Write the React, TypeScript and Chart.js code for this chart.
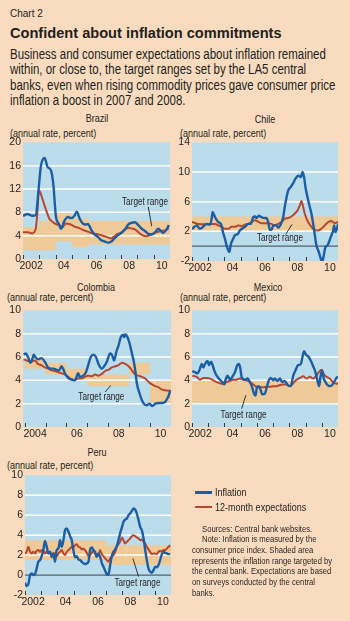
import React, { useEffect, useRef } from "react";
import { Chart, registerables } from "chart.js";

Chart.register(...registerables);

// ---------- colours & fonts ----------
const PEACH = "#F9DCBF";
const PLOT_BG = "#BBDCEB";
const BAND = "#EDCA98";
const BLUE = "#1A5EA6";
const RED = "#B8472E";
const TEXT = "#231F20";
const GRID = "#FFFFFF";
const ZERO = "#56626C";
const TICK = "#3A3A3A";
const SANS = '"Liberation Sans", Arial, sans-serif';
const NARROW_SCALE = 0.82;

// ---------- tick labels ----------
const xLabelYears = [2002, 2004, 2006, 2008, 2010];
const xLabelTexts = ["2002", "04", "06", "08", "10"];
const colXLabelYears = [2004, 2006, 2008, 2010];
const colXLabelTexts = ["2004", "06", "08", "10"];

// ---------- Brazil ----------
const brazilInflYears = [2002.0, 2002.27, 2002.58, 2002.78, 2002.95, 2003.09, 2003.32, 2003.5, 2003.71, 2003.85, 2004.02, 2004.18, 2004.33, 2004.53, 2004.74, 2004.94, 2005.15, 2005.29, 2005.46, 2005.62, 2005.79, 2005.97, 2006.18, 2006.38, 2006.59, 2006.79, 2007.0, 2007.21, 2007.41, 2007.62, 2007.82, 2008.03, 2008.23, 2008.44, 2008.65, 2008.85, 2009.06, 2009.26, 2009.47, 2009.67, 2009.88, 2010.09, 2010.29, 2010.44, 2010.6, 2010.77, 2010.93];
const brazilInflation = [7.4, 7.7, 7.4, 7.5, 11.8, 15.8, 17.3, 15.8, 15.2, 13.0, 7.2, 6.1, 5.2, 6.5, 7.2, 7.0, 7.4, 8.1, 7.0, 6.2, 5.9, 6.0, 5.0, 4.2, 3.8, 3.2, 3.0, 2.8, 3.0, 3.6, 4.1, 4.5, 5.0, 5.9, 6.2, 6.3, 5.8, 5.2, 4.8, 4.3, 4.2, 4.6, 5.2, 4.8, 4.5, 5.0, 5.8];
const brazilExpYears = [2002.0, 2002.3, 2002.55, 2002.78, 2002.88, 2002.98, 2003.2, 2003.4, 2003.6, 2003.8, 2004.0, 2004.2, 2004.45, 2004.6, 2004.85, 2005.0, 2005.2, 2005.45, 2005.65, 2005.85, 2006.05, 2006.25, 2006.5, 2006.75, 2007.0, 2007.2, 2007.35, 2007.6, 2007.8, 2008.0, 2008.25, 2008.5, 2008.7, 2008.9, 2009.1, 2009.3, 2009.55, 2009.75, 2010.0, 2010.2, 2010.45, 2010.7, 2010.93];
const brazilExpectations = [4.6, 4.6, 4.4, 5.2, 8.0, 11.8, 10.2, 8.5, 7.0, 6.4, 6.0, 5.8, 5.5, 6.1, 6.0, 5.8, 5.5, 5.3, 5.0, 4.8, 4.6, 4.4, 4.3, 4.1, 3.9, 3.7, 3.5, 3.9, 4.3, 4.5, 5.1, 5.3, 5.2, 5.0, 4.5, 4.1, 3.9, 4.1, 4.4, 4.6, 4.8, 4.9, 5.3];
const brazilBandYears = [2002, 2003, 2004, 2005, 2006, 2011];
const brazilBandLow = [1.5, 1.5, 3, 2, 2.5, 2.5];
const brazilBandHigh = [5.5, 6.5, 8, 7, 6.5, 6.5];

// ---------- Chile ----------
const chileInflYears = [2002.0, 2002.29, 2002.49, 2002.7, 2002.9, 2003.11, 2003.21, 2003.27, 2003.42, 2003.62, 2003.78, 2003.93, 2004.03, 2004.13, 2004.24, 2004.3, 2004.4, 2004.54, 2004.65, 2004.81, 2004.95, 2005.26, 2005.47, 2005.63, 2005.77, 2005.88, 2005.98, 2006.12, 2006.29, 2006.45, 2006.59, 2006.7, 2006.8, 2006.9, 2007.01, 2007.21, 2007.31, 2007.48, 2007.62, 2007.72, 2007.83, 2007.93, 2008.09, 2008.24, 2008.38, 2008.54, 2008.71, 2008.81, 2008.91, 2008.99, 2009.12, 2009.26, 2009.36, 2009.47, 2009.57, 2009.67, 2009.82, 2009.94, 2010.02, 2010.1, 2010.23, 2010.35, 2010.45, 2010.55, 2010.7, 2010.76, 2010.84, 2010.93, 2011.0];
const chileInflation = [2.3, 2.8, 2.35, 2.65, 3.0, 2.9, 3.7, 4.6, 3.9, 3.25, 3.0, 1.7, 1.0, 0.1, -0.6, -0.8, 0.3, 1.0, 1.5, 1.6, 2.1, 2.6, 3.0, 3.0, 3.9, 4.0, 3.8, 4.1, 3.9, 3.8, 3.8, 3.2, 2.2, 2.2, 2.8, 2.8, 2.5, 3.0, 3.9, 5.3, 6.6, 7.5, 8.0, 8.5, 9.1, 9.5, 9.3, 10.0, 9.3, 8.0, 6.6, 5.3, 4.4, 3.0, 1.5, 0.1, -0.8, -1.7, -2.1, -1.5, -0.1, 0.1, 0.6, 1.2, 2.1, 2.8, 1.9, 2.3, 3.0];
const chileExpYears = [2002.0, 2002.39, 2002.8, 2003.21, 2003.42, 2003.62, 2003.83, 2004.03, 2004.24, 2004.44, 2004.65, 2004.85, 2005.06, 2005.26, 2005.47, 2005.67, 2005.88, 2006.08, 2006.29, 2006.49, 2006.7, 2006.9, 2007.11, 2007.31, 2007.52, 2007.72, 2007.93, 2008.13, 2008.34, 2008.5, 2008.65, 2008.75, 2008.85, 2008.95, 2009.06, 2009.16, 2009.36, 2009.57, 2009.77, 2009.98, 2010.18, 2010.39, 2010.59, 2010.8, 2011.0];
const chileExpectations = [3.25, 3.0, 2.95, 3.0, 3.0, 2.8, 2.6, 2.35, 2.35, 2.6, 2.6, 2.8, 2.7, 2.9, 3.0, 3.25, 3.5, 3.3, 3.1, 3.1, 3.1, 3.0, 2.8, 3.0, 3.25, 3.7, 3.8, 4.0, 4.4, 4.8, 5.5, 6.1, 5.3, 4.4, 3.7, 3.25, 2.6, 2.2, 2.1, 2.35, 2.8, 3.25, 3.4, 3.1, 3.25];
const chileBandYears = [2002, 2011];
const chileBandLow = [2, 2];
const chileBandHigh = [4, 4];

// ---------- Colombia ----------
const colombiaInflYears = [2003.95, 2004.05, 2004.16, 2004.27, 2004.37, 2004.43, 2004.53, 2004.64, 2004.8, 2004.96, 2005.12, 2005.28, 2005.39, 2005.52, 2005.65, 2005.76, 2005.84, 2005.92, 2006.08, 2006.24, 2006.4, 2006.56, 2006.64, 2006.8, 2006.93, 2007.04, 2007.16, 2007.29, 2007.41, 2007.53, 2007.69, 2007.8, 2007.93, 2008.09, 2008.17, 2008.28, 2008.38, 2008.49, 2008.6, 2008.7, 2008.76, 2008.82, 2008.92, 2009.02, 2009.13, 2009.21, 2009.29, 2009.37, 2009.5, 2009.61, 2009.72, 2009.85, 2009.98, 2010.09, 2010.25, 2010.41, 2010.57, 2010.73, 2010.81, 2010.89, 2010.97];
const colombiaInflation = [6.23, 6.3, 6.0, 5.5, 5.85, 6.2, 5.95, 5.8, 5.9, 5.6, 5.1, 5.0, 5.0, 4.9, 4.85, 5.2, 5.0, 4.6, 4.2, 4.05, 4.0, 4.6, 4.3, 4.4, 4.7, 5.3, 6.0, 6.2, 6.0, 5.4, 5.0, 5.2, 5.6, 6.3, 6.2, 5.7, 6.4, 7.0, 7.7, 7.9, 7.7, 7.95, 7.7, 7.15, 6.3, 5.7, 4.85, 3.7, 2.85, 2.3, 1.95, 1.86, 2.0, 1.8, 2.0, 2.06, 2.06, 2.15, 2.4, 2.7, 3.15];
const colombiaExpYears = [2003.95, 2004.16, 2004.32, 2004.48, 2004.64, 2004.8, 2004.96, 2005.12, 2005.28, 2005.44, 2005.6, 2005.76, 2005.92, 2006.08, 2006.24, 2006.4, 2006.56, 2006.72, 2006.88, 2007.04, 2007.21, 2007.37, 2007.53, 2007.69, 2007.85, 2008.01, 2008.17, 2008.33, 2008.49, 2008.65, 2008.81, 2008.97, 2009.13, 2009.29, 2009.45, 2009.61, 2009.77, 2009.93, 2010.09, 2010.25, 2010.41, 2010.57, 2010.73, 2010.97];
const colombiaExpectations = [5.8, 5.65, 5.6, 5.7, 5.4, 5.3, 5.1, 5.0, 4.85, 4.8, 4.7, 4.6, 4.5, 4.3, 4.1, 4.05, 4.15, 4.15, 4.3, 4.4, 4.35, 4.5, 4.4, 4.55, 4.8, 4.9, 5.1, 5.2, 5.3, 5.5, 5.4, 5.2, 4.85, 4.5, 4.4, 4.3, 4.15, 3.85, 3.65, 3.5, 3.4, 3.2, 3.15, 3.1];
const colombiaBandYears = [2004, 2005, 2006, 2007, 2009, 2010, 2011];
const colombiaBandLow = [5, 4.5, 4, 3.5, 4.5, 2, 2];
const colombiaBandHigh = [6, 5.5, 5, 4.5, 5.5, 4, 4];

// ---------- Mexico ----------
const mexicoInflYears = [2002.02, 2002.18, 2002.35, 2002.49, 2002.59, 2002.7, 2002.8, 2002.96, 2003.05, 2003.17, 2003.25, 2003.37, 2003.52, 2003.72, 2003.87, 2003.99, 2004.07, 2004.19, 2004.34, 2004.48, 2004.65, 2004.79, 2004.89, 2004.97, 2005.06, 2005.26, 2005.43, 2005.57, 2005.71, 2005.84, 2005.92, 2006.0, 2006.12, 2006.25, 2006.33, 2006.49, 2006.59, 2006.74, 2006.86, 2007.01, 2007.11, 2007.27, 2007.42, 2007.56, 2007.72, 2007.89, 2008.03, 2008.13, 2008.24, 2008.38, 2008.54, 2008.71, 2008.81, 2008.91, 2009.02, 2009.16, 2009.32, 2009.47, 2009.61, 2009.73, 2009.84, 2009.92, 2010.02, 2010.12, 2010.23, 2010.35, 2010.49, 2010.64, 2010.76, 2010.9, 2011.0];
const mexicoInflation = [4.8, 4.7, 4.6, 5.0, 5.4, 5.1, 5.4, 5.65, 5.3, 5.6, 5.4, 4.85, 4.4, 4.05, 3.85, 3.65, 4.05, 4.4, 4.05, 4.3, 4.7, 5.3, 5.4, 5.1, 4.3, 4.05, 4.15, 3.85, 3.4, 2.8, 2.7, 3.4, 3.5, 3.1, 2.8, 2.85, 3.3, 4.0, 4.2, 4.0, 4.15, 3.95, 4.15, 3.85, 3.95, 3.6, 3.5, 3.65, 4.4, 4.85, 5.3, 5.4, 6.0, 6.5, 6.2, 6.05, 5.7, 5.2, 4.7, 4.0, 3.5, 4.3, 4.85, 4.15, 3.85, 3.6, 3.5, 3.6, 3.85, 4.2, 4.3];
const mexicoExpYears = [2002.02, 2002.29, 2002.49, 2002.7, 2002.9, 2003.11, 2003.31, 2003.52, 2003.72, 2003.93, 2004.13, 2004.34, 2004.54, 2004.75, 2004.95, 2005.16, 2005.36, 2005.57, 2005.77, 2005.98, 2006.18, 2006.39, 2006.59, 2006.8, 2007.01, 2007.21, 2007.42, 2007.62, 2007.83, 2008.03, 2008.24, 2008.44, 2008.65, 2008.85, 2009.06, 2009.26, 2009.47, 2009.67, 2009.82, 2009.98, 2010.14, 2010.29, 2010.49, 2010.7, 2010.9, 2011.0];
const mexicoExpectations = [4.4, 4.3, 4.05, 4.2, 4.2, 4.15, 4.0, 3.85, 3.75, 3.7, 3.85, 3.95, 4.05, 4.05, 4.15, 4.05, 4.0, 3.85, 3.65, 3.45, 3.4, 3.4, 3.45, 3.45, 3.5, 3.5, 3.6, 3.65, 3.65, 3.5, 3.75, 4.05, 4.2, 4.35, 4.15, 4.3, 4.15, 4.4, 4.7, 4.9, 4.5, 4.3, 4.15, 3.85, 3.7, 3.75];
const mexicoBandYears = [2002, 2011];
const mexicoBandLow = [2, 2];
const mexicoBandHigh = [4, 4];

// ---------- Peru ----------
const peruDates = [2002.0, 2002.1, 2002.21, 2002.31, 2002.41, 2002.51, 2002.62, 2002.72, 2002.82, 2002.93, 2003.03, 2003.13, 2003.23, 2003.34, 2003.44, 2003.54, 2003.65, 2003.75, 2003.85, 2003.95, 2004.06, 2004.16, 2004.26, 2004.37, 2004.47, 2004.57, 2004.68, 2004.78, 2004.88, 2004.98, 2005.09, 2005.19, 2005.29, 2005.4, 2005.5, 2005.6, 2005.7, 2005.81, 2005.91, 2006.01, 2006.12, 2006.22, 2006.32, 2006.42, 2006.53, 2006.63, 2006.73, 2006.84, 2006.94, 2007.04, 2007.14, 2007.25, 2007.35, 2007.45, 2007.56, 2007.66, 2007.76, 2007.86, 2007.97, 2008.07, 2008.17, 2008.28, 2008.38, 2008.48, 2008.59, 2008.69, 2008.79, 2008.89, 2009.0, 2009.1, 2009.2, 2009.31, 2009.41, 2009.51, 2009.61, 2009.72, 2009.82, 2009.92, 2010.03, 2010.13, 2010.23, 2010.33, 2010.44, 2010.54, 2010.64, 2010.75, 2010.85, 2010.95];
const peruInflation = [-0.77, -1.1, -0.9, 0, 0.17, 0, 0.1, 0.67, 1.33, 1.5, 1.9, 2.5, 3.43, 2.83, 2.17, 2.33, 1.9, 2.1, 1.33, 2.5, 2.67, 3.5, 2.83, 3.5, 4.5, 4.67, 4.33, 3.9, 3.5, 2.5, 1.77, 1.9, 1.57, 1.5, 1.33, 1.17, 1.1, 1.17, 1.33, 2.5, 2.77, 2.5, 2.33, 1.83, 2.17, 1.83, 1.23, 0.83, 0.43, 0.1, 0, 1.0, 1.9, 2.33, 2.57, 2.9, 3.5, 4.17, 4.77, 5.33, 5.57, 5.67, 6.0, 6.17, 6.43, 6.67, 6.57, 6.17, 5.5, 4.83, 4.5, 3.67, 2.5, 1.5, 0.67, 0.33, 0.23, 0.5, 0.83, 0.77, 1.0, 1.5, 2.1, 2.33, 2.23, 2.17, 2.1, 2.1];
const peruExpectations = [2.1, 2.33, 2.83, 2.33, 2.17, 2.33, 2.17, 2.43, 2.5, 2.33, 2.5, 2.43, 2.17, 2.33, 2.17, 2.33, 1.77, 2.23, 2.1, 1.83, 2.17, 2.33, 2.5, 2.17, 2.0, 2.33, 2.5, 2.67, 2.83, 2.77, 3.0, 3.1, 2.83, 2.77, 2.57, 2.67, 2.5, 2.23, 1.9, 2.0, 2.23, 2.5, 2.1, 1.9, 2.0, 2.5, 2.1, 1.9, 1.67, 1.5, 1.33, 1.67, 1.83, 2.0, 2.33, 2.83, 3.1, 3.33, 3.77, 3.5, 3.17, 3.33, 3.5, 3.67, 3.9, 4.0, 3.9, 3.77, 3.67, 3.5, 3.57, 3.33, 3.17, 2.83, 2.57, 2.33, 2.1, 2.17, 2.17, 2.1, 2.33, 2.43, 2.33, 2.5, 2.5, 2.67, 2.83, 3.0];
const peruBandYears = [2002, 2007, 2011];
const peruBandLow = [1.5, 1, 1];
const peruBandHigh = [3.5, 3, 3];

// ---------- texts ----------
const descriptionLines = [
  "Business and consumer expectations about inflation remained",
  "within, or close to, the target ranges set by the LA5 central",
  "banks, even when rising commodity prices gave consumer price",
  "inflation a boost in 2007 and 2008.",
];
const noteLines = [
  { text: "Sources: Central bank websites.", indent: true },
  { text: "Note: Inflation is measured by the", indent: true },
  { text: "consumer price index. Shaded area", indent: false },
  { text: "represents the inflation range targeted by", indent: false },
  { text: "the central bank. Expectations are based", indent: false },
  { text: "on surveys conducted by the central", indent: false },
  { text: "banks.", indent: false },
];

type XY = { x: number; y: number };
const toPoints = (xs: number[], ys: number[]): XY[] => xs.map((x, i) => ({ x, y: ys[i] }));

interface PanelSpec {
  key: string;
  title: string;
  titleCx: number;
  titleCy: number;
  subLeft: number;
  subCy: number;
  canvas: { left: number; top: number; width: number; height: number };
  padRight: number;
  yWidth: number;
  xMin: number;
  xMax: number;
  yMin: number;
  yMax: number;
  yStep: number;
  labelYears: number[];
  labelTexts: string[];
  inflYears: number[];
  infl: number[];
  expYears: number[];
  exp: number[];
  bandYears: number[];
  bandLow: number[];
  bandHigh: number[];
  note: { x: number; y: number; line: [number, number, number, number] };
}

const BOTTOM_PAD = 4;
const X_AXIS_H = 16;

const panels: PanelSpec[] = [
  {
    key: "brazil", title: "Brazil", titleCx: 96.5, titleCy: 118.3, subLeft: 10, subCy: 132.7,
    canvas: { left: 0, top: 134, width: 175, height: 125 + X_AXIS_H + BOTTOM_PAD }, padRight: 5, yWidth: 23,
    xMin: 2002, xMax: 2011, yMin: 0, yMax: 20, yStep: 4,
    labelYears: xLabelYears, labelTexts: xLabelTexts,
    inflYears: brazilInflYears, infl: brazilInflation, expYears: brazilExpYears, exp: brazilExpectations,
    bandYears: brazilBandYears, bandLow: brazilBandLow, bandHigh: brazilBandHigh,
    note: { x: 2009.47, y: 9.8, line: [2009.67, 8.95, 2009.88, 5.6] },
  },
  {
    key: "chile", title: "Chile", titleCx: 265, titleCy: 119, subLeft: 180, subCy: 132.7,
    canvas: { left: 172, top: 134, width: 172, height: 127 + X_AXIS_H + BOTTOM_PAD }, padRight: 6, yWidth: 20,
    xMin: 2002, xMax: 2011, yMin: -2, yMax: 14, yStep: 2,
    labelYears: xLabelYears, labelTexts: xLabelTexts,
    inflYears: chileInflYears, infl: chileInflation, expYears: chileExpYears, exp: chileExpectations,
    bandYears: chileBandYears, bandLow: chileBandLow, bandHigh: chileBandHigh,
    note: { x: 2007.42, y: 1.0, line: [2007.78, 1.6, 2008.17, 2.93] },
  },
  {
    key: "colombia", title: "Colombia", titleCx: 96, titleCy: 286.7, subLeft: 6.7, subCy: 296.7,
    canvas: { left: 0, top: 302, width: 175, height: 125 + X_AXIS_H + BOTTOM_PAD }, padRight: 4, yWidth: 23,
    xMin: 2003.92, xMax: 2011, yMin: 0, yMax: 10, yStep: 2,
    labelYears: colXLabelYears, labelTexts: colXLabelTexts,
    inflYears: colombiaInflYears, infl: colombiaInflation, expYears: colombiaExpYears, exp: colombiaExpectations,
    bandYears: colombiaBandYears, bandLow: colombiaBandLow, bandHigh: colombiaBandHigh,
    note: { x: 2007.67, y: 2.57, line: [2007.85, 3.0, 2008.12, 3.57] },
  },
  {
    key: "mexico", title: "Mexico", titleCx: 267.5, titleCy: 286.7, subLeft: 180, subCy: 296.7,
    canvas: { left: 172, top: 302, width: 172, height: 125 + X_AXIS_H + BOTTOM_PAD }, padRight: 6, yWidth: 20,
    xMin: 2002, xMax: 2011, yMin: 0, yMax: 10, yStep: 2,
    labelYears: xLabelYears, labelTexts: xLabelTexts,
    inflYears: mexicoInflYears, infl: mexicoInflation, expYears: mexicoExpYears, exp: mexicoExpectations,
    bandYears: mexicoBandYears, bandLow: mexicoBandLow, bandHigh: mexicoBandHigh,
    note: { x: 2005.18, y: 1.0, line: [2005.06, 1.57, 2005.32, 2.72] },
  },
  {
    key: "peru", title: "Peru", titleCx: 97, titleCy: 451.5, subLeft: 6.7, subCy: 465,
    canvas: { left: 0, top: 467, width: 175, height: 128 + X_AXIS_H + BOTTOM_PAD }, padRight: 4, yWidth: 25,
    xMin: 2002, xMax: 2011, yMin: -2, yMax: 10, yStep: 2,
    labelYears: xLabelYears, labelTexts: xLabelTexts,
    inflYears: peruDates, infl: peruInflation, expYears: peruDates, exp: peruExpectations,
    bandYears: peruBandYears, bandLow: peruBandLow, bandHigh: peruBandHigh,
    note: { x: 2008.93, y: -0.83, line: [2008.65, 1.67, 2009.0, -0.15] },
  },
];

// ---------- plugin: plot background, grid, zero line, year ticks, annotation ----------
const decorPlugin = {
  id: "decor",
  beforeDraw(chart: any) {
    const { ctx, chartArea: a } = chart;
    ctx.save();
    ctx.fillStyle = PLOT_BG;
    ctx.fillRect(a.left, a.top, a.right - a.left, a.bottom - a.top);
    ctx.restore();
  },
  beforeDatasetsDraw(chart: any) {
    const { ctx, chartArea: a, scales } = chart;
    const x = scales.x;
    const y = scales.y;
    ctx.save();
    ctx.beginPath();
    ctx.rect(a.left, a.top, a.right - a.left, a.bottom - a.top);
    ctx.clip();
    ctx.strokeStyle = GRID;
    ctx.lineWidth = 1.5;
    y.ticks.forEach((t: any) => {
      const v = t.value;
      if (v <= y.min || v >= y.max || (v === 0 && y.min < 0)) return;
      const py = y.getPixelForValue(v);
      ctx.beginPath();
      ctx.moveTo(a.left, py);
      ctx.lineTo(a.right, py);
      ctx.stroke();
    });
    if (y.min < 0) {
      const pz = y.getPixelForValue(0);
      ctx.strokeStyle = ZERO;
      ctx.lineWidth = 1.3;
      ctx.beginPath();
      ctx.moveTo(a.left, pz);
      ctx.lineTo(a.right, pz);
      ctx.stroke();
    }
    ctx.strokeStyle = TICK;
    ctx.lineWidth = 1;
    for (let yr = Math.ceil(x.min); yr <= Math.floor(x.max); yr++) {
      const px = Math.round(x.getPixelForValue(yr)) + 0.5;
      ctx.beginPath();
      ctx.moveTo(px, a.bottom);
      ctx.lineTo(px, a.bottom - 4);
      ctx.stroke();
    }
    ctx.restore();
  },
  afterDatasetsDraw(chart: any, _args: any, opts: any) {
    if (!opts || !opts.note) return;
    const { ctx, scales } = chart;
    const x = scales.x;
    const y = scales.y;
    const n = opts.note;
    ctx.save();
    ctx.strokeStyle = TEXT;
    ctx.lineWidth = 0.9;
    ctx.beginPath();
    ctx.moveTo(x.getPixelForValue(n.line[0]), y.getPixelForValue(n.line[1]));
    ctx.lineTo(x.getPixelForValue(n.line[2]), y.getPixelForValue(n.line[3]));
    ctx.stroke();
    ctx.fillStyle = TEXT;
    ctx.font = `10px ${SANS}`;
    ctx.textAlign = "center";
    ctx.textBaseline = "middle";
    ctx.translate(x.getPixelForValue(n.x), y.getPixelForValue(n.y));
    ctx.scale(NARROW_SCALE, 1);
    ctx.fillText("Target range", 0, 0);
    ctx.restore();
  },
};

function PanelChart({ spec }: { spec: PanelSpec }) {
  const ref = useRef<HTMLCanvasElement>(null);
  useEffect(() => {
    if (!ref.current) return;
    const tickFont = { family: SANS, size: 10.5 };
    const chart = new Chart(ref.current, {
      type: "line",
      data: {
        datasets: [
          {
            label: "Inflation",
            data: toPoints(spec.inflYears, spec.infl),
            borderColor: BLUE,
            borderWidth: 2.4,
            pointRadius: 0,
            fill: false,
            cubicInterpolationMode: "monotone",
          },
          {
            label: "12-month expectations",
            data: toPoints(spec.expYears, spec.exp),
            borderColor: RED,
            borderWidth: 2,
            pointRadius: 0,
            fill: false,
            cubicInterpolationMode: "monotone",
          },
          {
            label: "target low",
            data: toPoints(spec.bandYears, spec.bandLow),
            borderWidth: 0,
            borderColor: "rgba(0,0,0,0)",
            pointRadius: 0,
            stepped: true,
            fill: false,
          },
          {
            label: "target high",
            data: toPoints(spec.bandYears, spec.bandHigh),
            borderWidth: 0,
            borderColor: "rgba(0,0,0,0)",
            backgroundColor: BAND,
            pointRadius: 0,
            stepped: true,
            fill: "-1",
          },
        ],
      },
      options: {
        responsive: false,
        maintainAspectRatio: false,
        animation: false,
        events: [],
        layout: { padding: { top: 8, right: spec.padRight, bottom: BOTTOM_PAD, left: 0 } },
        scales: {
          x: {
            type: "linear",
            min: spec.xMin,
            max: spec.xMax,
            grid: { display: false, drawTicks: false },
            border: { display: false },
            afterBuildTicks: (scale: any) => {
              scale.ticks = spec.labelYears.map((v) => ({ value: v + 0.5 }));
            },
            afterFit: (scale: any) => {
              scale.height = X_AXIS_H;
            },
            ticks: {
              autoSkip: false,
              maxRotation: 0,
              padding: 1,
              color: TEXT,
              font: tickFont,
              callback: (_v: any, i: number) => spec.labelTexts[i],
            },
          },
          y: {
            type: "linear",
            min: spec.yMin,
            max: spec.yMax,
            grid: { display: false, drawTicks: false },
            border: { display: false },
            afterFit: (scale: any) => {
              scale.width = spec.yWidth;
            },
            ticks: {
              stepSize: spec.yStep,
              padding: 2,
              color: TEXT,
              font: tickFont,
              callback: (v: any) => String(v),
            },
          },
        },
        plugins: {
          legend: { display: false },
          tooltip: { enabled: false },
          filler: { drawTime: "beforeDatasetsDraw" },
          decor: { note: spec.note },
        } as any,
      },
      plugins: [decorPlugin],
    } as any);
    return () => chart.destroy();
  }, [spec]);
  const c = spec.canvas;
  return (
    <canvas
      ref={ref}
      width={c.width}
      height={c.height}
      style={{ position: "absolute", left: c.left, top: c.top, width: c.width, height: c.height, display: "block" }}
    />
  );
}

export default function App() {
  const abs = (o: React.CSSProperties, origin = "0 50%"): React.CSSProperties => ({
    position: "absolute",
    whiteSpace: "nowrap",
    color: TEXT,
    fontFamily: SANS,
    transform: `scaleX(${NARROW_SCALE})`,
    transformOrigin: origin,
    ...o,
  });
  return (
    <div
      style={{
        position: "absolute",
        left: 0,
        top: 0,
        width: 350,
        height: 621,
        background: PEACH,
        overflow: "hidden",
      }}
    >
      <div style={abs({ left: 10, top: 8, fontSize: 10, lineHeight: "12px", transform: "none" })}>Chart 2</div>
      <div style={abs({ left: 10, top: 23.7, fontSize: 14.6, lineHeight: "18px", fontWeight: "bold", transform: "none" })}>
        Confident about inflation commitments
      </div>
      {descriptionLines.map((l, i) => (
        <div key={l} style={abs({ left: 10, top: 46.5 + i * 15.6, fontSize: 14, lineHeight: "15.6px" })}>
          {l}
        </div>
      ))}

      {panels.map((p) => (
        <React.Fragment key={p.key}>
          <div
            style={abs(
              { left: p.titleCx - 50, width: 100, textAlign: "center", top: p.titleCy - 7, fontSize: 11, lineHeight: "14px" },
              "50% 50%"
            )}
          >
            {p.title}
          </div>
          <div style={abs({ left: p.subLeft, top: p.subCy - 7, fontSize: 11, lineHeight: "14px" })}>
            (annual rate, percent)
          </div>
        </React.Fragment>
      ))}

      {panels.map((p) => (
        <PanelChart key={p.key} spec={p} />
      ))}

      <div style={{ position: "absolute", left: 195, top: 491, width: 17, height: 2.5, background: BLUE }} />
      <div style={abs({ left: 215, top: 485.3, fontSize: 11, lineHeight: "14px" })}>Inflation</div>
      <div style={{ position: "absolute", left: 195, top: 505.5, width: 17, height: 2.2, background: RED }} />
      <div style={abs({ left: 215, top: 499.7, fontSize: 11, lineHeight: "14px" })}>12-month expectations</div>

      {noteLines.map((l, i) => (
        <div
          key={l.text}
          style={abs({ left: l.indent ? 201.7 : 192.3, top: 523.6 + i * 10.7, fontSize: 9.4, lineHeight: "10.7px" })}
        >
          {l.text}
        </div>
      ))}
    </div>
  );
}
